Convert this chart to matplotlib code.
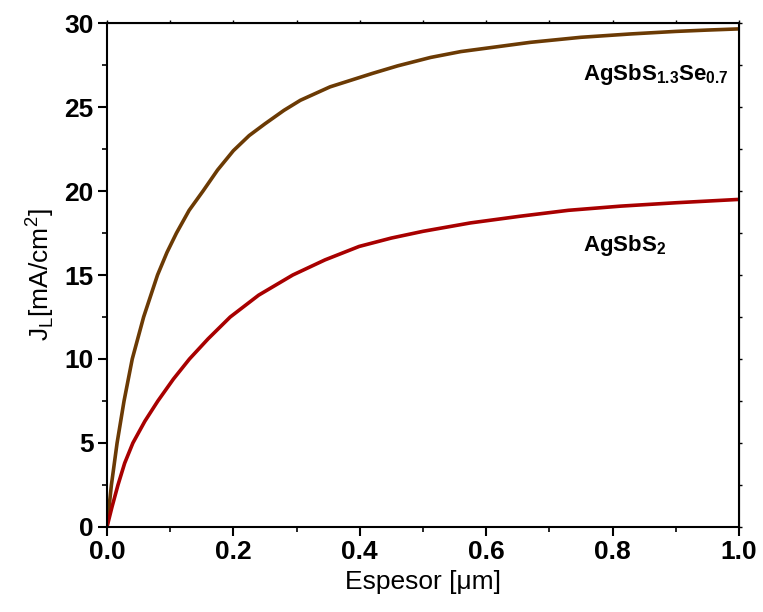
import matplotlib.pyplot as plt
from matplotlib.ticker import MultipleLocator

plt.rcParams['font.family'] = ['Liberation Sans', 'DejaVu Sans']
plt.rcParams['mathtext.fontset'] = 'custom'
plt.rcParams['mathtext.rm'] = 'Liberation Sans'
plt.rcParams['mathtext.bf'] = 'Liberation Sans:bold'

# values
x_se = [0, 0.007, 0.016, 0.027, 0.040, 0.058, 0.080, 0.095, 0.110, 0.130,
        0.152, 0.175, 0.200, 0.225, 0.250, 0.280, 0.306, 0.353, 0.420, 0.460,
        0.512, 0.560, 0.600, 0.670, 0.750, 0.829, 0.900, 0.950, 1.0]
j_se = [0, 2.5, 5.0, 7.5, 10.0, 12.5, 15.0, 16.35, 17.5, 18.85,
        20.0, 21.25, 22.4, 23.3, 24.0, 24.8, 25.4, 26.2, 27.0, 27.45,
        27.95, 28.3, 28.5, 28.85, 29.15, 29.35, 29.5, 29.58, 29.65]

x_s = [0, 0.008, 0.0174, 0.028, 0.041, 0.060, 0.0805, 0.105, 0.1305, 0.160,
       0.195, 0.240, 0.294, 0.345, 0.399, 0.450, 0.500, 0.575, 0.654, 0.730,
       0.813, 0.900, 1.0]
j_s = [0, 1.2, 2.5, 3.8, 5.0, 6.3, 7.5, 8.8, 10.0, 11.2,
       12.5, 13.8, 15.0, 15.9, 16.7, 17.2, 17.6, 18.1, 18.5, 18.85,
       19.1, 19.3, 19.5]

fig = plt.figure(figsize=(7.63, 6.12), dpi=100)
ax = fig.add_axes([0.1402, 0.1389, 0.8283, 0.8235])

ax.plot(x_se, j_se, color='#6b3a04', lw=2.6, solid_joinstyle='round')
ax.plot(x_s, j_s, color='#a80000', lw=2.6, solid_joinstyle='round')

ax.set_xlim(0, 1.0)
ax.set_ylim(0, 30)
ax.xaxis.set_major_locator(MultipleLocator(0.2))
ax.xaxis.set_minor_locator(MultipleLocator(0.1))
ax.yaxis.set_major_locator(MultipleLocator(5))
ax.yaxis.set_minor_locator(MultipleLocator(2.5))
ax.xaxis.set_major_formatter(lambda v, p: f'{v:.1f}')

for s in ax.spines.values():
    s.set_linewidth(1.5)
ax.tick_params(which='major', direction='out', length=6.5, width=1.5,
               labelsize=19, pad=3)
ax.tick_params(which='minor', direction='out', length=3.5, width=1.2)
for lab in ax.get_xticklabels() + ax.get_yticklabels():
    lab.set_fontweight('bold')

# small ticks on top and right
top = ax.secondary_xaxis('top')
top.xaxis.set_major_locator(MultipleLocator(0.1))
top.tick_params(length=2, width=1, labeltop=False)
right = ax.secondary_yaxis('right')
right.yaxis.set_major_locator(MultipleLocator(2.5))
right.tick_params(length=2, width=1, labelright=False)

ax.set_xlabel('Espesor [\u03bcm]', fontsize=19, labelpad=4)
ax.set_ylabel(r'J$_\mathregular{L}$[mA/cm$^\mathregular{2}$]', fontsize=19, labelpad=6)

ax.text(0.754, 26.6, r'$\mathbf{AgSbS_{1.3}Se_{0.7}}$', fontsize=16)
ax.text(0.754, 16.4, r'$\mathbf{AgSbS_{2}}$', fontsize=16)

plt.savefig('out.png', dpi=100)
